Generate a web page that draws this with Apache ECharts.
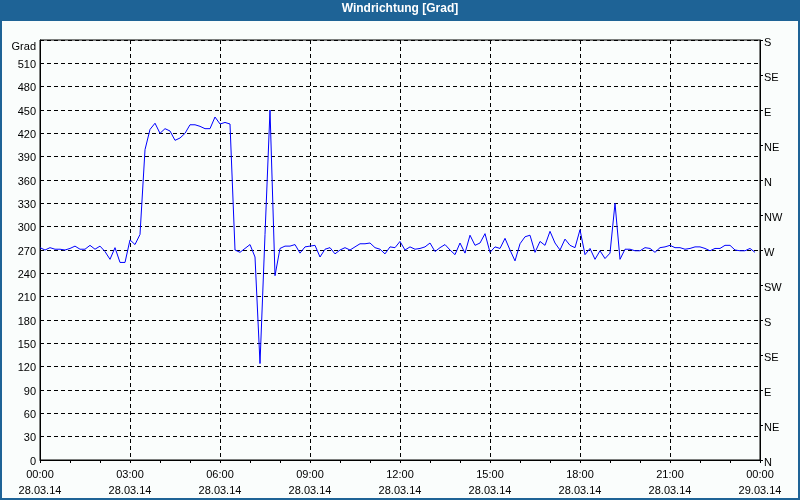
<!DOCTYPE html>
<html>
<head>
<meta charset="utf-8">
<script src="https://cdn.jsdelivr.net/npm/echarts@6/dist/echarts.min.js"></script>
<style>
html,body{margin:0;padding:0;background:#1e6396;}
#chart{width:800px;height:500px;}
</style>
</head>
<body>
<div id="chart"></div>
<script>
// Wind direction in degrees, one reading every 10 minutes starting 28.03.14 00:00
const stepHours = 1 / 6;
const windDir = [
  273,270,273,271,271,270,272,275,271,271,276,271,275,268,258,273,254,254,283,277,
  290,399,425,433,420,426,423,411,414,420,431,431,429,426,426,441,432,434,432,270,
  267,272,277,261,124,290,450,237,272,275,275,277,266,274,275,276,261,271,273,265,
  270,273,270,274,278,278,279,273,271,265,274,273,281,270,274,271,272,274,279,268,
  273,277,270,264,279,266,289,276,279,291,267,274,272,285,270,256,278,287,289,267,
  281,276,294,279,270,284,276,273,296,264,272,258,269,259,266,330,258,271,271,269,
  269,273,272,267,273,274,276,273,273,271,272,274,274,272,269,272,272,276,276,270,
  269,269,272,267
];
const dayLabels = ['28.03.14', '29.03.14'];
const compassLabels = ['N','NE','E','SE','S','SW','W','NW','N','NE','E','SE','S'];
const leftTopLabel = 'Grad';
const titleText = 'Windrichtung [Grad]';

const seriesData = windDir.map((v, i) => [i * stepHours, v]);

const font = 'Liberation Sans, Arial, sans-serif';
const chart = echarts.init(document.getElementById('chart'));
chart.setOption({
  animation: false,
  backgroundColor: '#1e6396',
  textStyle: { fontFamily: font },
  graphic: [{
    type: 'rect', z: -10, silent: true,
    shape: { x: 2, y: 21, width: 796, height: 477 },
    style: { fill: '#fafdfc' }
  }],
  title: {
    text: titleText, left: 'center', top: 3, padding: 0,
    textStyle: { color: '#ffffff', fontWeight: 'bold', fontSize: 12, fontFamily: font }
  },
  grid: {
    left: 40, right: 40, top: 40, bottom: 40,
    show: true, borderColor: '#000', borderWidth: 1, backgroundColor: 'transparent'
  },
  xAxis: {
    type: 'value', min: 0, max: 24, interval: 3,
    axisLine: { show: true, lineStyle: { color: '#000', width: 1 } },
    axisTick: { show: true, length: 3, lineStyle: { color: '#000' } },
    minorTick: { show: true, splitNumber: 3, length: 3, lineStyle: { color: '#000' } },
    splitLine: { show: true, lineStyle: { color: '#000', type: [4, 3], width: 1 } },
    axisLabel: {
      margin: 7, color: '#000', fontSize: 11, fontFamily: font, lineHeight: 16,
      showMaxLabel: true, showMinLabel: true,
      formatter: v => {
        const h = v % 24;
        const hh = (h < 10 ? '0' : '') + h + ':00';
        return hh + '\n' + dayLabels[Math.floor(v / 24)];
      }
    }
  },
  yAxis: [{
    type: 'value', min: 0, max: 540, interval: 30, position: 'left',
    axisLine: { show: true, lineStyle: { color: '#000' } },
    axisTick: { show: false },
    splitLine: { show: true, lineStyle: { color: '#000', type: [4, 3], width: 1 } },
    axisLabel: {
      margin: 4, color: '#000', fontSize: 11, fontFamily: font,
      showMaxLabel: true,
      formatter: v => v === 540 ? '{g|' + leftTopLabel + '}' : '{a|' + v + '}',
      rich: {
        a: { fontSize: 11, fontFamily: font, color: '#000', padding: [3, 0, 0, 0] },
        g: { fontSize: 11, fontFamily: font, color: '#000', padding: [13, 0, 0, 0] }
      }
    }
  }, {
    type: 'value', min: 0, max: 540, interval: 45, position: 'right',
    axisLine: { show: true, lineStyle: { color: '#000' } },
    axisTick: { show: true, length: 3, lineStyle: { color: '#000' } },
    splitLine: { show: false },
    axisLabel: {
      margin: 4, color: '#000', fontSize: 11, fontFamily: font,
      showMaxLabel: true,
      formatter: v => '{c|' + compassLabels[Math.round(v / 45)] + '}',
      rich: { c: { fontSize: 11, fontFamily: font, color: '#000', padding: [6, 0, 0, 0] } }
    }
  }],
  series: [{
    type: 'line', data: seriesData, yAxisIndex: 0,
    symbol: 'none', showSymbol: false,
    lineStyle: { color: '#0000ff', width: 1 }
  }]
});
</script>
</body>
</html>
